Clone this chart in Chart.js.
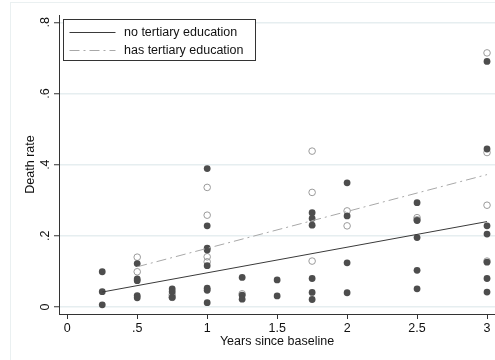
<!DOCTYPE html>
<html>
<head>
<meta charset="utf-8">
<script src="https://cdn.jsdelivr.net/npm/chart.js@4/dist/chart.umd.min.js"></script>
<style>
  html, body { margin: 0; padding: 0; background: #fff; }
  #wrap { position: relative; width: 495px; height: 360px; overflow: hidden; }
  #frame { position: absolute; left: 10px; top: 2px; width: 600px; height: 600px; border: 1px solid #eaf0f1; box-sizing: border-box; }
  canvas { position: absolute; left: 0; top: 0; }
</style>
</head>
<body>
<div id="wrap"><div id="frame"></div><canvas id="c" width="495" height="360"></canvas></div>
<script>
// ---- data ----
const seriesNames = ['no tertiary education', 'has tertiary education'];

// filled points: no tertiary education
const noTertX = [0.25,0.25,0.25, 0.5,0.5,0.5,0.5,0.5, 0.75,0.75,0.75,
  1,1,1,1,1,1,1,1, 1.25,1.25,1.25, 1.5,1.5, 1.75,1.75,1.75,1.75,1.75,1.75,
  2,2,2,2, 2.5,2.5,2.5,2.5,2.5, 3,3,3,3,3,3,3];
const noTertY = [0.099,0.043,0.006, 0.122,0.079,0.074,0.032,0.026, 0.051,0.043,0.027,
  0.389,0.228,0.165,0.160,0.116,0.053,0.047,0.012, 0.083,0.033,0.022, 0.076,0.031,
  0.265,0.249,0.230,0.080,0.041,0.021, 0.349,0.256,0.124,0.040,
  0.293,0.243,0.195,0.103,0.051, 0.690,0.444,0.228,0.205,0.126,0.080,0.042];

// hollow points: has tertiary education
const hasTertX = [0.5,0.5, 0.75,0.75, 1,1,1,1, 1.25, 1.75,1.75,1.75, 2,2, 2.5,2.5, 3,3,3,3];
const hasTertY = [0.140,0.099, 0.034,0.027, 0.336,0.258,0.141,0.127, 0.037,
  0.438,0.322,0.129, 0.270,0.228, 0.251,0.245, 0.714,0.434,0.286,0.129];

// fitted lines (end points)
const fitNoX = [0.25, 3];
const fitNoY = [0.042, 0.240];
const fitHasX = [0.5, 3];
const fitHasY = [0.113, 0.372];

// axes
const xTicks = [0, 0.5, 1, 1.5, 2, 2.5, 3];
const xTickLabels = ['0', '.5', '1', '1.5', '2', '2.5', '3'];
const yTicks = [0, 0.2, 0.4, 0.6, 0.8];
const yTickLabels = ['0', '.2', '.4', '.6', '.8'];
const xTitle = 'Years since baseline';
const yTitle = 'Death rate';

const zip = (xs, ys) => xs.map((x, i) => ({x: x, y: ys[i]}));
const FONT = 'Liberation Sans, Arial, Helvetica, sans-serif';
const FS = 12.5;

const legendPlugin = {
  id: 'stataLegend',
  afterDatasetsDraw(chart) {
    const ctx = chart.ctx, ca = chart.chartArea;
    const bx = Math.round(ca.left) + 4.5, by = Math.round(ca.top) + 4.5;
    const bw = 192, bh = 41;
    ctx.save();
    ctx.fillStyle = '#fff';
    ctx.fillRect(bx, by, bw, bh);
    ctx.strokeStyle = '#333';
    ctx.lineWidth = 1;
    ctx.strokeRect(bx, by, bw, bh);
    const items = [chart.data.datasets[2], chart.data.datasets[3]];
    items.forEach((ds, i) => {
      const ly = Math.round(by + 12 + i * 18) + 0.5;
      ctx.beginPath();
      ctx.setLineDash(ds.borderDash || []);
      ctx.strokeStyle = ds.borderColor;
      ctx.lineWidth = ds.borderWidth;
      ctx.moveTo(bx + 6, ly);
      ctx.lineTo(bx + 52, ly);
      ctx.stroke();
      ctx.setLineDash([]);
      ctx.fillStyle = '#111';
      ctx.font = FS + 'px ' + FONT;
      ctx.textBaseline = 'middle';
      ctx.textAlign = 'left';
      ctx.fillText(ds.label, bx + 60.5, ly);
    });
    ctx.restore();
  }
};

new Chart(document.getElementById('c'), {
  type: 'scatter',
  data: {
    datasets: [
      { label: seriesNames[1] + ' (obs)', data: zip(hasTertX, hasTertY),
        pointRadius: 3.3, pointBackgroundColor: 'rgba(255,255,255,0)', pointBorderColor: '#9a9a9a',
        pointBorderWidth: 1, order: 4 },
      { label: seriesNames[0] + ' (obs)', data: zip(noTertX, noTertY),
        pointRadius: 3.4, pointBackgroundColor: '#4d4d4d', pointBorderColor: '#4d4d4d',
        pointBorderWidth: 0, order: 3 },
      { type: 'line', label: seriesNames[0], data: zip(fitNoX, fitNoY),
        borderColor: '#3a3a3a', borderWidth: 1, pointRadius: 0, fill: false, order: 2 },
      { type: 'line', label: seriesNames[1], data: zip(fitHasX, fitHasY),
        borderColor: '#a8a8a8', borderWidth: 1, borderDash: [10, 4, 2, 4], pointRadius: 0, fill: false, order: 1 }
    ]
  },
  options: {
    responsive: false,
    animation: false,
    events: [],
    layout: { autoPadding: false, padding: { left: 0, right: 0, top: 15, bottom: 0 } },
    plugins: { legend: { display: false }, tooltip: { enabled: false } },
    scales: {
      x: {
        type: 'linear', min: -0.059, max: 3.057,
        afterBuildTicks: (s) => { s.ticks = xTicks.map(v => ({value: v})); },
        afterFit: (s) => { s.height = 46; s.paddingLeft = 0; s.paddingRight = 0; },
        grid: { drawOnChartArea: false, drawTicks: true, tickLength: 5, tickColor: '#333', tickWidth: 1 },
        border: { color: '#333', width: 1 },
        ticks: { padding: 2, color: '#111', font: { family: FONT, size: FS },
          callback: (v) => { const i = xTicks.indexOf(v); return i >= 0 ? xTickLabels[i] : ''; } },
        title: { display: true, text: xTitle, color: '#111', font: { family: FONT, size: FS },
          padding: { top: 0, bottom: 11 } }
      },
      y: {
        type: 'linear', min: -0.0197, max: 0.8205,
        afterBuildTicks: (s) => { s.ticks = yTicks.map(v => ({value: v})); },
        afterFit: (s) => { s.width = 59; s.paddingTop = 0; s.paddingBottom = 0; },
        grid: { drawOnChartArea: true, color: '#e6eef0', lineWidth: 1.5, drawTicks: true, tickLength: 5, tickColor: '#333', tickWidth: 1 },
        border: { color: '#333', width: 1 },
        ticks: { padding: 3, minRotation: 90, maxRotation: 90, crossAlign: 'center', color: '#111',
          font: { family: FONT, size: FS },
          callback: (v) => { const i = yTicks.indexOf(v); return i >= 0 ? yTickLabels[i] : ''; } },
        title: { display: true, text: yTitle, color: '#111', font: { family: FONT, size: FS },
          padding: { top: 23.5, bottom: 0 } }
      }
    }
  },
  plugins: [legendPlugin]
});
</script>
</body>
</html>
